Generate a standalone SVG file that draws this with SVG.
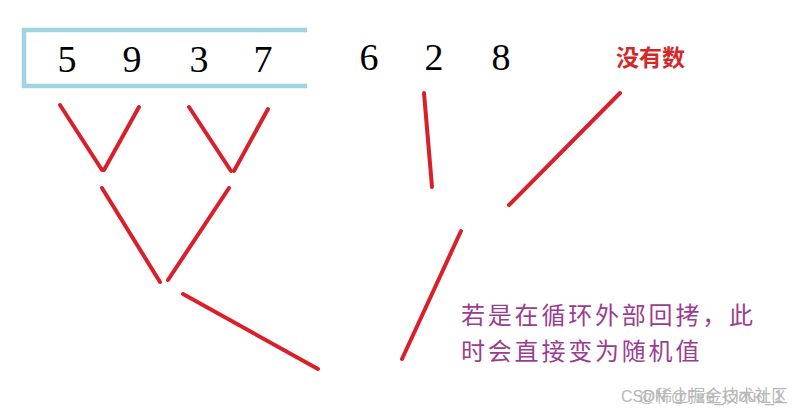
<svg xmlns="http://www.w3.org/2000/svg" width="802" height="415" viewBox="0 0 802 415">
<style>
.num{font-family:"Liberation Serif","DejaVu Serif",serif;font-size:38px;fill:#000;text-anchor:middle}
.ln{stroke:#d9202a;stroke-width:4;stroke-linecap:round;fill:none}
.box{stroke:#9fd4e0;stroke-width:4.5;fill:none}
.red{font-family:"Noto Sans CJK SC",sans-serif;font-size:23px;fill:#d42828;font-weight:bold}
.note{font-family:"Noto Sans CJK SC",sans-serif;font-size:24px;fill:#9b3d8f;letter-spacing:2.8px}
.wm{font-family:"Liberation Sans","Noto Sans CJK SC",sans-serif;font-size:16px;fill:#b8b8b8}
</style>
<rect width="802" height="415" fill="#fff"/>
<g id="array-box">
<path class="box" d="M307,30 H24 V86 H307"/>
</g>
<g id="n5"><text class="num" x="67" y="72">5</text></g>
<g id="n9"><text class="num" x="132" y="72">9</text></g>
<g id="n3"><text class="num" x="199" y="72">3</text></g>
<g id="n7"><text class="num" x="263" y="72">7</text></g>
<g id="n6"><text class="num" x="369" y="70">6</text></g>
<g id="n2"><text class="num" x="434" y="70">2</text></g>
<g id="n8"><text class="num" x="501" y="70">8</text></g>
<g id="no-number"><text class="red" x="616" y="66">没有数</text></g>
<g id="connectors">
<line class="ln" x1="60" y1="105" x2="102" y2="170"/>
<line class="ln" x1="104" y1="170" x2="139" y2="107"/>
<line class="ln" x1="189" y1="107" x2="231" y2="171"/>
<line class="ln" x1="234" y1="171" x2="268" y2="109"/>
<line class="ln" x1="102" y1="188" x2="160" y2="282"/>
<line class="ln" x1="168" y1="280" x2="229" y2="188"/>
<line class="ln" x1="183" y1="294" x2="318" y2="369"/>
<line class="ln" x1="424" y1="93" x2="432" y2="187"/>
<line class="ln" x1="620" y1="93" x2="509" y2="205"/>
<line class="ln" x1="461" y1="231" x2="402" y2="359"/>
</g>
<g id="note">
<text class="note" x="461" y="324">若是在循环外部回拷，此</text>
<text class="note" x="461" y="360">时会直接变为随机值</text>
</g>
<g id="watermark">
<text class="wm" x="621" y="402">CSDN @Fire_Cloud_1<tspan x="639" y="402" font-size="16.5">@稀土掘金技术社区</tspan></text>
</g>
</svg>
